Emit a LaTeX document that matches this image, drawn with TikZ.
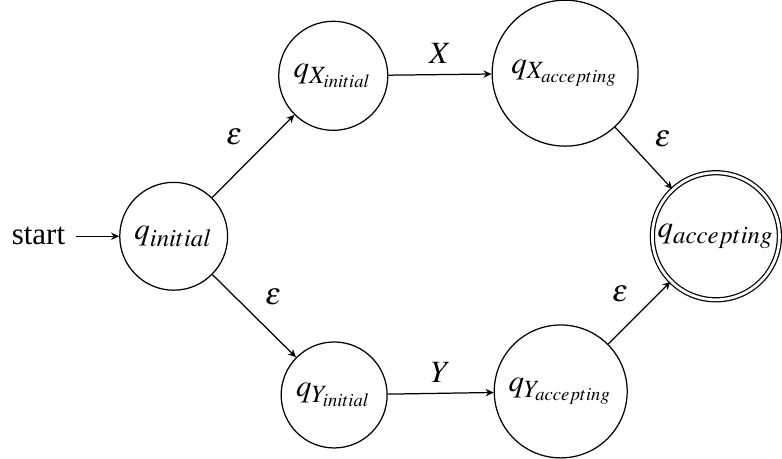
\documentclass[tikz,border=0pt]{standalone}
\usepackage{amsmath}
\usepackage{mathptmx}
\usepackage{fontspec}
\setmainfont{Liberation Serif}
\usepackage{tikz}
\usetikzlibrary{arrows.meta, positioning}
\DeclareMathSizes{10}{10}{8}{6}

\begin{document}
\begin{tikzpicture}[>={Stealth[length=2.6pt, width=2.4pt]}, line width=0.4pt,
  state/.style={circle, draw, inner sep=0pt},
  acceptstate/.style={state, double, double distance=0.9pt},
  trans/.style={->, auto}]
\useasboundingbox (0,0) rectangle (8.87,-5.205);
% —— 状态 ——
\node[state, minimum size=34.8pt] (qinit) at (1.97,-2.68){$q_{initial}$};
\node[state, minimum size=35.2pt] (qxinit) at (3.78,-0.86){$q_{X_{initial}}$};
\node[state, minimum size=47.1pt] (qxacc) at (6.41,-0.83){$q_{X_{accepting}}$};
\node[state, minimum size=34.2pt] (qyinit) at (3.79,-4.48){$q_{Y_{initial}}$};
\node[state, minimum size=42.9pt] (qyacc) at (6.36,-4.44){$q_{Y_{accepting}}$};
\node[acceptstate, minimum size=41pt] (qacc) at (8.12,-2.68){$q_{accepting}$};
\node[left=13.9pt of qinit] (start){start};
% —— 转移 ——
\draw[->] (start) -- (qinit);
\draw[trans] (qinit) -- node{$\varepsilon$} (qxinit);
\draw[trans] (qinit) -- node{$\varepsilon$} (qyinit);
\draw[trans] (qxinit) -- node{$X$} (qxacc);
\draw[trans] (qyinit) -- node{$Y$} (qyacc);
\draw[trans] (qxacc) -- node{$\varepsilon$} (qacc);
\draw[trans] (qyacc) -- node{$\varepsilon$} (qacc);
\end{tikzpicture}
\end{document}
